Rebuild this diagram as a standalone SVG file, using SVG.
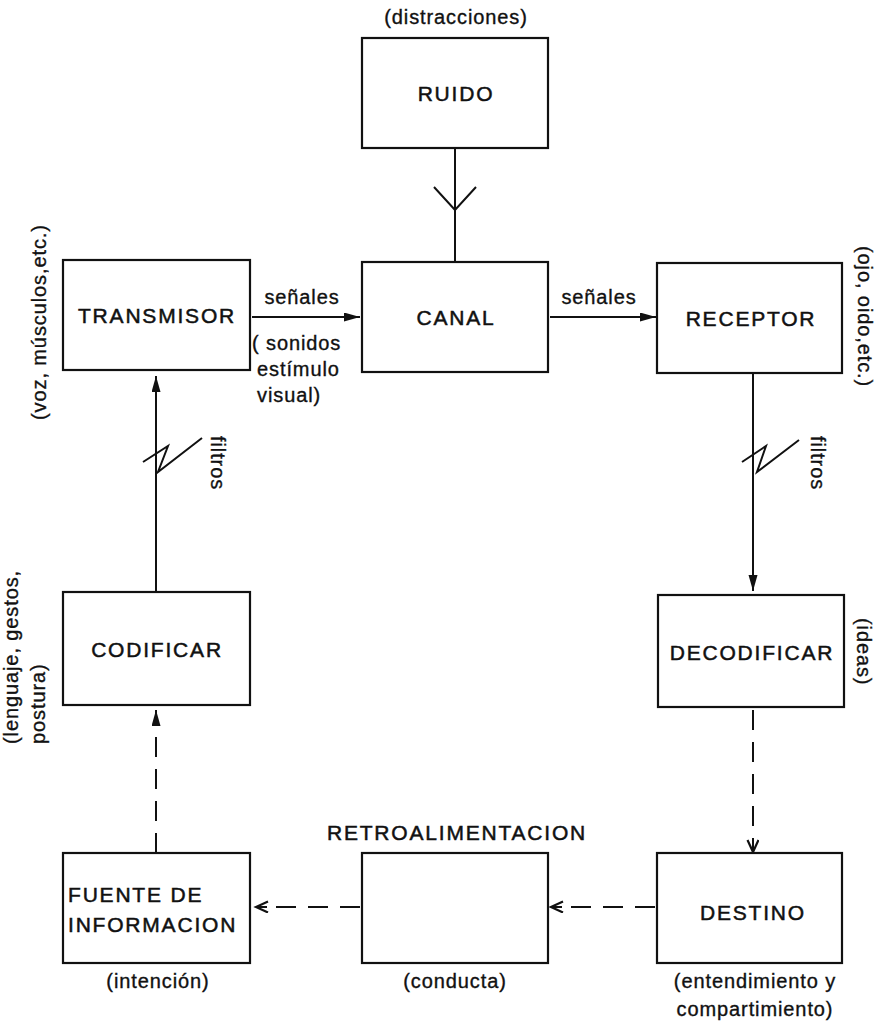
<svg xmlns="http://www.w3.org/2000/svg" width="884" height="1028" viewBox="0 0 884 1028">
<style>
.box{fill:#fff;stroke:#111;stroke-width:2.2}
.lbl{font-family:"Liberation Sans",Arial,sans-serif;font-size:21px;letter-spacing:1.8px;fill:#111;stroke:#111;stroke-width:0.5;text-anchor:middle}
.txt{font-family:"Liberation Sans",Arial,sans-serif;font-size:20px;letter-spacing:0.9px;fill:#111;stroke:#111;stroke-width:0.35}
.mid{text-anchor:middle}
.ln{fill:none;stroke:#111;stroke-width:2}
.dash{fill:none;stroke:#111;stroke-width:2;stroke-dasharray:20 12}
</style>
<defs>
<marker id="fill" markerUnits="userSpaceOnUse" markerWidth="18" markerHeight="10" refX="16" refY="4.5" orient="auto">
<path d="M0,0 L16,4.5 L0,9 Z" fill="#111"/>
</marker>
<marker id="openv" markerUnits="userSpaceOnUse" markerWidth="16" markerHeight="14" refX="13" refY="6" orient="auto">
<path d="M1,0.5 L13,6 L1,11.5" fill="none" stroke="#111" stroke-width="2.2"/>
</marker>
</defs>

<rect width="884" height="1028" fill="#fff"/>

<g id="connectors">
<line class="ln" x1="455" y1="148" x2="455" y2="262"/>
<polyline class="ln" points="434,187 455,210 476,187"/>
<line class="ln" x1="252" y1="317" x2="360" y2="317" marker-end="url(#fill)"/>
<line class="ln" x1="550" y1="317" x2="656" y2="317" marker-end="url(#fill)"/>
<line class="ln" x1="156" y1="592" x2="156" y2="376" marker-end="url(#fill)"/>
<polyline class="ln" points="143,462 168,446 158,472 202,438"/>
<line class="ln" x1="753" y1="373" x2="753" y2="591" marker-end="url(#fill)"/>
<polyline class="ln" points="742,462 766,446 757,472 799,440"/>
<line class="dash" x1="753" y1="710" x2="753" y2="838"/>
<line class="ln" x1="753" y1="838" x2="753" y2="852" marker-end="url(#openv)"/>
<line class="dash" x1="156" y1="853" x2="156" y2="731"/>
<line class="ln" x1="156" y1="726" x2="156" y2="710" marker-end="url(#fill)"/>
<line class="dash" x1="655" y1="907" x2="565" y2="907"/>
<line class="ln" x1="562" y1="907" x2="551" y2="907" marker-end="url(#openv)"/>
<line class="dash" x1="360" y1="907" x2="270" y2="907"/>
<line class="ln" x1="267" y1="907" x2="256" y2="907" marker-end="url(#openv)"/>
</g>

<g id="ruido">
<rect class="box" x="362" y="38" width="186" height="110"/>
<text class="lbl" x="456" y="101">RUIDO</text>
<text class="txt mid" x="456" y="24">(distracciones)</text>
</g>

<g id="canal">
<rect class="box" x="362" y="262" width="186" height="110"/>
<text class="lbl" x="456" y="325">CANAL</text>
</g>

<g id="transmisor">
<rect class="box" x="63" y="260" width="187" height="110"/>
<text class="lbl" x="157" y="323">TRANSMISOR</text>
<text class="txt" transform="translate(46,420) rotate(-90)">(voz, músculos,etc.)</text>
</g>

<g id="senales1">
<text class="txt mid" x="302" y="304">señales</text>
<text class="txt" x="252" y="350">( sonidos</text>
<text class="txt" x="257" y="376">estímulo</text>
<text class="txt" x="257" y="402">visual)</text>
</g>

<g id="senales2">
<text class="txt mid" x="599" y="304">señales</text>
</g>

<g id="receptor">
<rect class="box" x="657" y="263" width="185" height="110"/>
<text class="lbl" x="751" y="326">RECEPTOR</text>
<text class="txt" transform="translate(858,246) rotate(90)">(ojo, oido,etc.)</text>
</g>

<g id="filtros1">
<text class="txt" transform="translate(211,436) rotate(90)">filtros</text>
</g>
<g id="filtros2">
<text class="txt" transform="translate(811,436) rotate(90)">filtros</text>
</g>

<g id="codificar">
<rect class="box" x="63" y="592" width="187" height="113"/>
<text class="lbl" x="157" y="657">CODIFICAR</text>
<text class="txt" transform="translate(18,744) rotate(-90)">(lenguaje, gestos,</text>
<text class="txt" transform="translate(45,744) rotate(-90)">postura)</text>
</g>

<g id="decodificar">
<rect class="box" x="658" y="595" width="186" height="112"/>
<text class="lbl" x="752" y="660">DECODIFICAR</text>
<text class="txt" transform="translate(857,618) rotate(90)">(ideas)</text>
</g>

<g id="fuente">
<rect class="box" x="63" y="853" width="187" height="110"/>
<text class="lbl" x="68" y="902" style="text-anchor:start">FUENTE DE</text>
<text class="lbl" x="68" y="932" style="text-anchor:start">INFORMACION</text>
<text class="txt mid" x="158" y="988">(intención)</text>
</g>

<g id="retroalimentacion">
<rect class="box" x="362" y="853" width="186" height="110"/>
<text class="lbl" x="457" y="840">RETROALIMENTACION</text>
<text class="txt mid" x="455" y="988">(conducta)</text>
</g>

<g id="destino">
<rect class="box" x="657" y="853" width="185" height="110"/>
<text class="lbl" x="753" y="920">DESTINO</text>
<text class="txt mid" x="755" y="988">(entendimiento y</text>
<text class="txt mid" x="755" y="1016">compartimiento)</text>
</g>
</svg>
